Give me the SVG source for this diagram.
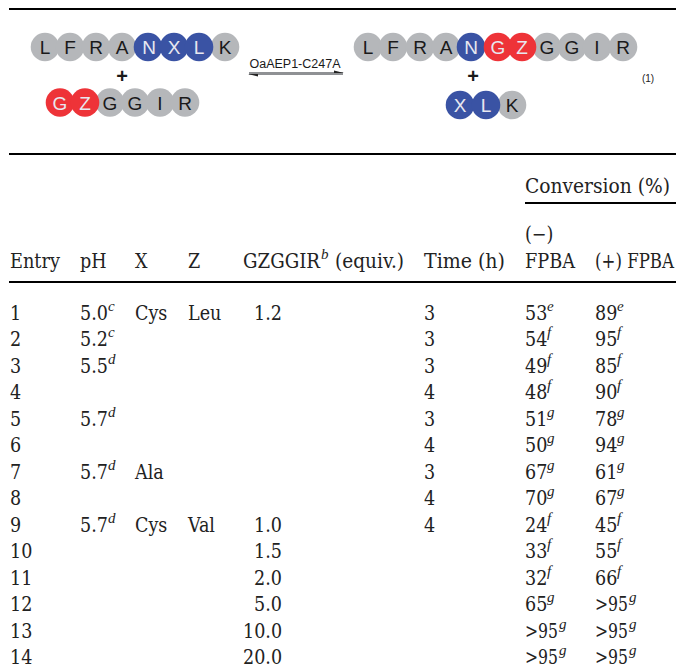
<svg xmlns="http://www.w3.org/2000/svg" width="676" height="668" viewBox="0 0 676 668">
<style>
.g{fill:#b5b7ba}.b{fill:#3a53a4}.r{fill:#ee3338}
.l{font:19px "Liberation Sans",Arial,sans-serif;text-anchor:middle;fill:#1a1a1a}
.w{fill:#e8e8f0}
.p{font:bold 20px "Liberation Sans",Arial,sans-serif;text-anchor:middle;fill:#1a1a1a}
.t{font:19.500px "DejaVu Serif Condensed","DejaVu Serif",serif;fill:#222}
.s{font:italic 15px "Liberation Serif","Times New Roman",serif;fill:#222}
.rule{stroke:#000;stroke-width:2;fill:none}
</style>
<defs>
<circle id="c" r="14.3"/>
</defs>
<g id="rules">
<path class="rule" d="M9 9H676M9 154H676M525 203H676M9 282H676"/>
</g>
<g id="peptide-LFRANXLK">
<use href="#c" class="g" x="45" y="47"/><use href="#c" class="g" x="70" y="47"/><use href="#c" class="g" x="96" y="47"/><use href="#c" class="g" x="122" y="47"/><use href="#c" class="g" x="225" y="47"/><use href="#c" class="b" x="148" y="47"/><use href="#c" class="b" x="174" y="47"/><use href="#c" class="b" x="199" y="47"/>
<text class="l" x="45" y="54">L</text><text class="l" x="70" y="54">F</text><text class="l" x="96" y="54">R</text><text class="l" x="122" y="54">A</text><text class="l w" x="149" y="54">N</text><text class="l w" x="174" y="54">X</text><text class="l w" x="199" y="54">L</text><text class="l" x="225" y="54">K</text>
</g>
<text class="p" x="122" y="83">+</text>
<g id="peptide-GZGGIR">
<use href="#c" class="g" x="110" y="102.500"/><use href="#c" class="g" x="135" y="102.500"/><use href="#c" class="g" x="160" y="102.500"/><use href="#c" class="g" x="185" y="102.500"/><use href="#c" class="r" x="60" y="102.500"/><use href="#c" class="r" x="85" y="102.500"/>
<text class="l w" x="60" y="109.500">G</text><text class="l w" x="85" y="109.500">Z</text><text class="l" x="110" y="109.500">G</text><text class="l" x="135" y="109.500">G</text><text class="l" x="160" y="109.500">I</text><text class="l" x="185" y="109.500">R</text>
</g>
<g id="enzyme-arrow">
<text x="295" y="68" style="font:12.500px 'Liberation Sans',Arial,sans-serif;fill:#1a1a1a" text-anchor="middle">OaAEP1-C247A</text>
<path d="M249 73.500H343" stroke="#8f9194" stroke-width="3" fill="none"/>
<path d="M248 74L258 76.500V74ZM344 73L334 70.500V73Z" fill="#222"/>
</g>
<g id="peptide-product">
<use href="#c" class="g" x="368" y="47"/><use href="#c" class="g" x="393" y="47"/><use href="#c" class="g" x="420" y="47"/><use href="#c" class="g" x="446" y="47"/><use href="#c" class="g" x="547" y="47"/><use href="#c" class="g" x="572" y="47"/><use href="#c" class="g" x="597" y="47"/><use href="#c" class="g" x="623" y="47"/><use href="#c" class="b" x="471" y="47"/><use href="#c" class="r" x="498" y="47"/><use href="#c" class="r" x="522" y="47"/>
<text class="l" x="368" y="54">L</text><text class="l" x="393" y="54">F</text><text class="l" x="420" y="54">R</text><text class="l" x="446" y="54">A</text><text class="l w" x="471" y="54">N</text><text class="l w" x="498" y="54">G</text><text class="l w" x="522" y="54">Z</text><text class="l" x="547" y="54">G</text><text class="l" x="572" y="54">G</text><text class="l" x="597" y="54">I</text><text class="l" x="623" y="54">R</text>
</g>
<text class="p" x="473" y="83">+</text>
<g id="peptide-XLK">
<use href="#c" class="g" x="512" y="105"/><use href="#c" class="b" x="460" y="105"/><use href="#c" class="b" x="486" y="105"/>
<text class="l w" x="460" y="112">X</text><text class="l w" x="486" y="112">L</text><text class="l" x="512" y="112">K</text>
</g>
<text x="648" y="82" style="font:10px 'Liberation Sans',Arial,sans-serif;fill:#222" text-anchor="middle">(1)</text>
<g id="table-head">
<text class="t" x="525" y="193" textLength="145" lengthAdjust="spacingAndGlyphs">Conversion (%)</text>
<text class="t" x="525" y="241">(−)</text>
<text class="t" x="10" y="268" textLength="50" lengthAdjust="spacingAndGlyphs">Entry</text><text class="t" x="80" y="268">pH</text><text class="t" x="135" y="268">X</text><text class="t" x="188" y="268">Z</text>
<text class="t" x="243" y="268" textLength="77" lengthAdjust="spacingAndGlyphs">GZGGIR</text><text class="s" x="321" y="259">b</text><text class="t" x="335" y="268" textLength="69" lengthAdjust="spacingAndGlyphs">(equiv.)</text>
<text class="t" x="424" y="268" textLength="81" lengthAdjust="spacingAndGlyphs">Time (h)</text><text class="t" x="525" y="268" textLength="50" lengthAdjust="spacingAndGlyphs">FPBA</text><text class="t" x="595" y="268" textLength="79" lengthAdjust="spacingAndGlyphs">(+) FPBA</text>
</g>
<g id="table-body" class="t">
<text class="t" x="10" y="320">1</text><text class="t" x="10" y="346">2</text><text class="t" x="10" y="373">3</text><text class="t" x="10" y="399">4</text><text class="t" x="10" y="426">5</text><text class="t" x="10" y="452">6</text><text class="t" x="10" y="479">7</text><text class="t" x="10" y="505">8</text><text class="t" x="10" y="532">9</text><text class="t" x="10" y="558">10</text><text class="t" x="10" y="585">11</text><text class="t" x="10" y="611">12</text><text class="t" x="10" y="638">13</text><text class="t" x="10" y="664">14</text>
<text class="t" x="80" y="320">5.0</text><text class="s" x="108" y="311">c</text>
<text class="t" x="80" y="346">5.2</text><text class="s" x="108" y="337">c</text>
<text class="t" x="80" y="373">5.5</text><text class="s" x="108" y="364">d</text>
<text class="t" x="80" y="426">5.7</text><text class="s" x="108" y="417">d</text>
<text class="t" x="80" y="479">5.7</text><text class="s" x="108" y="470">d</text>
<text class="t" x="80" y="532">5.7</text><text class="s" x="108" y="523">d</text>
<text class="t" x="135" y="320">Cys</text><text class="t" x="135" y="479">Ala</text><text class="t" x="135" y="532">Cys</text>
<text class="t" x="188" y="320">Leu</text><text class="t" x="188" y="532">Val</text>
<text class="t" x="254" y="320">1.2</text><text class="t" x="254" y="532">1.0</text><text class="t" x="254" y="558">1.5</text><text class="t" x="254" y="585">2.0</text><text class="t" x="254" y="611">5.0</text><text class="t" x="243" y="638">10.0</text><text class="t" x="243" y="664">20.0</text>
<text class="t" x="424" y="320">3</text><text class="t" x="424" y="346">3</text><text class="t" x="424" y="373">3</text><text class="t" x="424" y="399">4</text><text class="t" x="424" y="426">3</text><text class="t" x="424" y="452">4</text><text class="t" x="424" y="479">3</text><text class="t" x="424" y="505">4</text><text class="t" x="424" y="532">4</text>
<text class="t" x="525" y="320">53</text><text class="s" x="547" y="311">e</text><text class="t" x="595" y="320">89</text><text class="s" x="617" y="311">e</text>
<text class="t" x="525" y="346">54</text><text class="s" x="547" y="337">f</text><text class="t" x="595" y="346">95</text><text class="s" x="617" y="337">f</text>
<text class="t" x="525" y="373">49</text><text class="s" x="547" y="364">f</text><text class="t" x="595" y="373">85</text><text class="s" x="617" y="364">f</text>
<text class="t" x="525" y="399">48</text><text class="s" x="547" y="390">f</text><text class="t" x="595" y="399">90</text><text class="s" x="617" y="390">f</text>
<text class="t" x="525" y="426">51</text><text class="s" x="547" y="417">g</text><text class="t" x="595" y="426">78</text><text class="s" x="617" y="417">g</text>
<text class="t" x="525" y="452">50</text><text class="s" x="547" y="443">g</text><text class="t" x="595" y="452">94</text><text class="s" x="617" y="443">g</text>
<text class="t" x="525" y="479">67</text><text class="s" x="547" y="470">g</text><text class="t" x="595" y="479">61</text><text class="s" x="617" y="470">g</text>
<text class="t" x="525" y="505">70</text><text class="s" x="547" y="496">g</text><text class="t" x="595" y="505">67</text><text class="s" x="617" y="496">g</text>
<text class="t" x="525" y="532">24</text><text class="s" x="547" y="523">f</text><text class="t" x="595" y="532">45</text><text class="s" x="617" y="523">f</text>
<text class="t" x="525" y="558">33</text><text class="s" x="547" y="549">f</text><text class="t" x="595" y="558">55</text><text class="s" x="617" y="549">f</text>
<text class="t" x="525" y="585">32</text><text class="s" x="547" y="576">f</text><text class="t" x="595" y="585">66</text><text class="s" x="617" y="576">f</text>
<text class="t" x="525" y="611">65</text><text class="s" x="547" y="602">g</text><text class="t" x="595" y="611" textLength="33" lengthAdjust="spacingAndGlyphs">&gt;95</text><text class="s" x="629" y="602">g</text>
<text class="t" x="525" y="638" textLength="33" lengthAdjust="spacingAndGlyphs">&gt;95</text><text class="s" x="559" y="629">g</text><text class="t" x="595" y="638" textLength="33" lengthAdjust="spacingAndGlyphs">&gt;95</text><text class="s" x="629" y="629">g</text>
<text class="t" x="525" y="664" textLength="33" lengthAdjust="spacingAndGlyphs">&gt;95</text><text class="s" x="559" y="655">g</text><text class="t" x="595" y="664" textLength="33" lengthAdjust="spacingAndGlyphs">&gt;95</text><text class="s" x="629" y="655">g</text>
</g>
</svg>
